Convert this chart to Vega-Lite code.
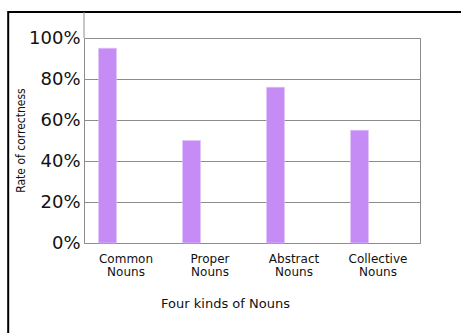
{
  "$schema": "https://vega.github.io/schema/vega-lite/v6.json",
  "width": 336,
  "height": 205,
  "autosize": {"type": "none"},
  "padding": {"left": 84, "top": 38, "right": 41, "bottom": 90},
  "background": "white",
  "config": {
    "view": {"stroke": "#8c8c8c", "strokeWidth": 1},
    "font": "DejaVu Sans"
  },
  "datasets": {
    "nouns": [
      {"kind": "Common Nouns", "rate": 0.95},
      {"kind": "Proper Nouns", "rate": 0.50},
      {"kind": "Abstract Nouns", "rate": 0.76},
      {"kind": "Collective Nouns", "rate": 0.55}
    ],
    "frame": [
      {"x1": -0.2256, "x2": 1.25, "y1": 1.127, "y2": -0.5}
    ],
    "axisext": [
      {"x": 0, "y1": 1.0, "y2": 1.127}
    ]
  },
  "layer": [
    {
      "data": {"name": "nouns"},
      "mark": {"type": "bar", "width": 18, "xOffset": -18.5, "color": "#c58cf6", "stroke": "#e2c6fb", "strokeWidth": 0.6},
      "encoding": {
        "x": {
          "field": "kind",
          "type": "nominal",
          "sort": null,
          "scale": {"paddingInner": 0, "paddingOuter": 0},
          "axis": {
            "title": "Four kinds of Nouns",
            "titleFont": "DejaVu Sans",
            "titleFontSize": 13,
            "titleFontWeight": "normal",
            "titleColor": "#111",
            "titleX": 141,
            "titleY": 60,
            "titleAlign": "center",
            "titleBaseline": "middle",
            "labelAngle": 0,
            "labelFont": "DejaVu Sans",
            "labelFontSize": 12,
            "labelColor": "#111",
            "labelLineHeight": 13,
            "labelPadding": 10,
            "labelExpr": "split(datum.label, ' ')",
            "ticks": false,
            "domain": false,
            "grid": false
          }
        },
        "y": {
          "field": "rate",
          "type": "quantitative",
          "scale": {"domain": [0, 1], "nice": false},
          "axis": {
            "title": "Rate of correctness",
            "titleFont": "Liberation Sans Narrow, DejaVu Sans Condensed, sans-serif",
            "titleFontSize": 12,
            "titleFontWeight": "normal",
            "titleColor": "#111",
            "titleX": -64,
            "titleY": 102,
            "titleAngle": 270,
            "titleAlign": "center",
            "titleBaseline": "middle",
            "values": [0, 0.2, 0.4, 0.6, 0.8, 1],
            "format": ".0%",
            "labelFont": "DejaVu Sans",
            "labelFontSize": 18,
            "labelColor": "#111",
            "labelPadding": 4,
            "ticks": false,
            "domain": false,
            "grid": true,
            "gridColor": "#8c8c8c",
            "gridWidth": 1
          }
        }
      }
    },
    {
      "data": {"name": "frame"},
      "mark": {"type": "rect", "fill": null, "fillOpacity": 0, "stroke": "#000", "strokeWidth": 2, "clip": false},
      "encoding": {
        "x": {"field": "x1", "type": "quantitative", "scale": {"domain": [0, 1], "nice": false, "zero": false}, "axis": null},
        "x2": {"field": "x2"},
        "y": {"field": "y1", "type": "quantitative"},
        "y2": {"field": "y2"}
      }
    },
    {
      "data": {"name": "axisext"},
      "mark": {"type": "rule", "color": "#8c8c8c", "strokeWidth": 1},
      "encoding": {
        "x": {"field": "x", "type": "quantitative", "scale": {"domain": [0, 1], "nice": false, "zero": false}, "axis": null},
        "y": {"field": "y1", "type": "quantitative"},
        "y2": {"field": "y2"}
      }
    }
  ],
  "resolve": {"scale": {"x": "independent"}, "axis": {"x": "independent"}}
}
